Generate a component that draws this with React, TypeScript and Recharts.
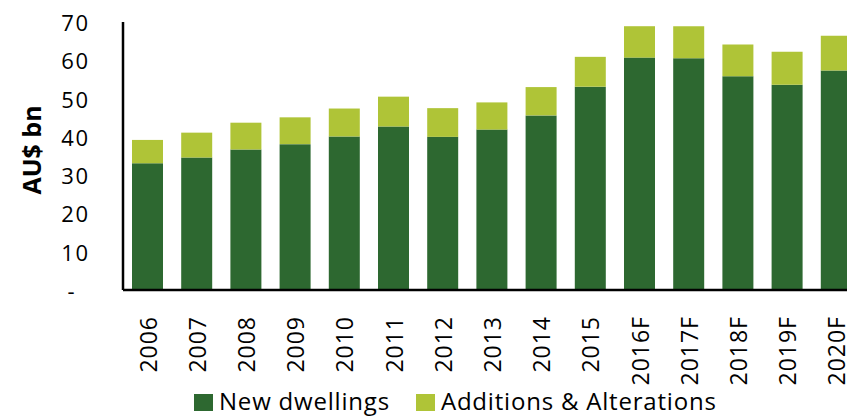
import React from "react";
import {
  BarChart,
  Bar,
  XAxis,
  YAxis,
  Legend,
} from "recharts";

const years = [
  "2006", "2007", "2008", "2009", "2010", "2011", "2012", "2013",
  "2014", "2015", "2016F", "2017F", "2018F", "2019F", "2020F",
];
const newDwellings = [
  33.1, 34.6, 36.7, 38.1, 40.1, 42.7, 40.0, 41.9, 45.6, 53.1, 60.7, 60.5, 55.8, 53.6, 57.3,
];
const additions = [
  6.1, 6.5, 7.0, 7.0, 7.3, 7.8, 7.5, 7.1, 7.4, 7.8, 8.2, 8.4, 8.3, 8.6, 9.1,
];
const yTicks = [0, 10, 20, 30, 40, 50, 60, 70];

const DARK = "#2d6830";
const LIGHT = "#afc437";
const FONT = "'Open Sans', sans-serif";

const data = years.map((year, i) => ({
  year,
  newDwellings: newDwellings[i],
  additions: additions[i],
}));

/** y 轴刻度：0 显示为 "-" */
function YTick({ x, y, payload }: any) {
  const v = payload.value;
  return (
    <text
      x={v === 0 ? x - 12 : x + 1.5}
      y={y}
      textAnchor="end"
      dominantBaseline="central"
      fontFamily={FONT}
      fontSize={22}
      letterSpacing={1.5}
      fill="#000"
    >
      {v === 0 ? "-" : v}
    </text>
  );
}

/** x 轴刻度：竖排年份 */
function XTick({ x, y, payload }: any) {
  return (
    <text
      transform={`translate(${x},${y + 18}) rotate(-90)`}
      textAnchor="end"
      dominantBaseline="central"
      fontFamily={FONT}
      fontSize={23}
      letterSpacing={1}
      fill="#000"
    >
      {payload.value}
    </text>
  );
}

function YLabel({ viewBox }: any) {
  const cy = viewBox.y + viewBox.height / 2 - 6;
  return (
    <text
      transform={`translate(31,${cy}) rotate(-90)`}
      textAnchor="middle"
      dominantBaseline="central"
      fontFamily={FONT}
      fontWeight="bold"
      fontSize={25}
      fill="#000"
    >
      AU$ bn
    </text>
  );
}

function LegendContent() {
  const items = [
    { name: "New dwellings", color: DARK },
    { name: "Additions & Alterations", color: LIGHT },
  ];
  return (
    <div
      style={{
        display: "flex",
        alignItems: "center",
        paddingLeft: 194,
        fontFamily: FONT,
        fontSize: 24,
        letterSpacing: 0.8,
        lineHeight: "24px",
        height: 24,
      }}
    >
      {items.map((it) => (
        <div key={it.name} style={{ display: "flex", alignItems: "center", marginRight: 26 }}>
          <span
            style={{
              width: 19,
              height: 17,
              background: it.color,
              display: "inline-block",
              marginRight: 6,
              marginTop: 3,
            }}
          />
          <span style={{ color: "#000" }}>{it.name}</span>
        </div>
      ))}
    </div>
  );
}

export default function App() {
  return (
    <div
      style={{
        position: "fixed",
        left: 0,
        top: 0,
        width: 847,
        height: 416,
        overflow: "hidden",
        background: "#fff",
      }}
    >
      <BarChart
        width={870}
        height={416}
        data={data}
        margin={{ top: 22, right: 9, bottom: 0, left: 0 }}
        barSize={31}
      >
        <XAxis
          dataKey="year"
          tick={<XTick />}
          tickLine={false}
          axisLine={{ stroke: "#000", strokeWidth: 2.5 }}
          interval={0}
          height={102}
        />
        <YAxis
          width={123}
          domain={[0, 70]}
          ticks={yTicks}
          tick={<YTick />}
          tickLine={false}
          tickSize={0}
          tickMargin={35}
          axisLine={{ stroke: "#000", strokeWidth: 2.5 }}
          label={{ content: <YLabel /> }}
        />
        <Legend
          verticalAlign="bottom"
          align="left"
          height={24}
          wrapperStyle={{ top: 389, left: 0, height: 24 }}
          content={<LegendContent />}
        />
        <Bar
          dataKey="newDwellings"
          name="New dwellings"
          stackId="a"
          fill={DARK}
          isAnimationActive={false}
        />
        <Bar
          dataKey="additions"
          name="Additions & Alterations"
          stackId="a"
          fill={LIGHT}
          isAnimationActive={false}
        />
      </BarChart>
    </div>
  );
}
